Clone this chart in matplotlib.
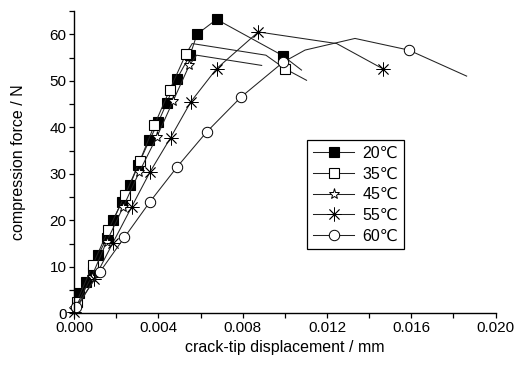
import matplotlib
matplotlib.use("Agg")
import matplotlib.pyplot as plt
from matplotlib.ticker import MultipleLocator, FormatStrFormatter

plt.rcParams['font.family'] = ['Liberation Sans', 'DejaVu Sans']

# ---- data ----
labels = ["20℃", "35℃", "45℃", "55℃", "60℃"]

x20 = [0.00024, 0.00055, 0.0009, 0.00114, 0.00154, 0.00186, 0.00225, 0.00265, 0.00304,
       0.00357, 0.0040, 0.00439, 0.00486, 0.0055, 0.00583, 0.00676, 0.0099, 0.01079]
y20 = [4.3, 6.8, 8.9, 12.5, 16.1, 20.0, 24.0, 27.6, 31.9,
       37.2, 41.2, 45.2, 50.3, 55.5, 60.0, 63.2, 55.4, 52.3]
m20 = list(range(0, 17))

x35 = [0.0, 0.00012, 0.00088, 0.00162, 0.00241, 0.00312, 0.0038, 0.00453, 0.0053,
       0.0056, 0.0091, 0.0100, 0.01103]
y35 = [0.0, 2.5, 10.4, 17.9, 25.4, 32.8, 40.4, 48.0, 55.7,
       58.0, 55.5, 52.6, 50.1]
m35 = [1, 2, 3, 4, 5, 6, 7, 8, 11]

x45 = [0.00004, 0.00083, 0.00154, 0.00233, 0.00309, 0.00392, 0.0047, 0.00546, 0.00581, 0.0089]
y45 = [1.1, 7.9, 15.4, 22.9, 30.4, 37.9, 45.7, 53.3, 55.5, 53.3]
m45 = [0, 1, 2, 3, 4, 5, 6, 7]

x55 = [0.0, 0.00095, 0.00183, 0.00273, 0.0036, 0.00458, 0.00554, 0.00676, 0.00874, 0.01246, 0.01464]
y55 = [0.2, 7.4, 15.1, 22.9, 30.4, 37.8, 45.5, 52.6, 60.5, 58.0, 52.6]
m55 = [0, 1, 2, 3, 4, 5, 6, 7, 8, 10]

x60 = [0.00009, 0.00122, 0.00238, 0.0036, 0.00489, 0.00629, 0.00792, 0.00992,
       0.01096, 0.01333, 0.01588, 0.01863]
y60 = [1.4, 8.9, 16.3, 24.0, 31.5, 39.0, 46.5, 54.0,
       56.6, 59.1, 56.6, 51.0]
m60 = [0, 1, 2, 3, 4, 5, 6, 7, 10]

xlabel = "crack-tip displacement / mm"
ylabel = "compression force / N"

# ---- figure ----
fig = plt.figure(figsize=(5.15, 3.65), dpi=100)
ax = fig.add_axes([74.2 / 515, 1 - 313.3 / 365, 421.3 / 515, 302.3 / 365])

lc = '#222222'
lw = 0.75
common = dict(color=lc, lw=lw, clip_on=False)
ax.plot(x20, y20, marker='s', ms=7, mfc='black', mec='black', mew=0.8,
        markevery=m20, label=labels[0], **common)
ax.plot(x35, y35, marker='s', ms=7, mfc='white', mec='black', mew=0.8,
        markevery=m35, label=labels[1], **common)
ax.plot(x45, y45, marker='*', ms=8, mfc='white', mec='black', mew=0.7,
        markevery=m45, label=labels[2], **common)
ax.plot(x55, y55, marker=(8, 2, 0), ms=10, mfc='none', mec='black', mew=0.6,
        markevery=m55, label=labels[3], **common)
ax.plot(x60, y60, marker='o', ms=7.5, mfc='white', mec='black', mew=0.7,
        markevery=m60, label=labels[4], **common)

ax.set_xlim(0, 0.020)
ax.set_ylim(0, 65)
ax.spines['top'].set_visible(False)
ax.spines['right'].set_visible(False)
for s in ('left', 'bottom'):
    ax.spines[s].set_linewidth(1.0)

ax.xaxis.set_major_locator(MultipleLocator(0.004))
ax.xaxis.set_minor_locator(MultipleLocator(0.002))
ax.xaxis.set_major_formatter(FormatStrFormatter('%.3f'))
ax.yaxis.set_major_locator(MultipleLocator(10))
ax.yaxis.set_minor_locator(MultipleLocator(5))
ax.tick_params(which='both', direction='out', length=3.5, width=0.9, labelsize=11, pad=2)

ax.set_xlabel(xlabel, fontsize=11.5, labelpad=4)
ax.set_ylabel(ylabel, fontsize=11.5, labelpad=17)

leg = ax.legend(loc='upper left', bbox_to_anchor=(0.553, 0.573), fontsize=11.5,
                frameon=True, fancybox=False, edgecolor='black', framealpha=1,
                handlelength=2.6, labelspacing=0.36, borderpad=0.35, handletextpad=0.5,
                borderaxespad=0)
leg.get_frame().set_linewidth(0.9)

fig.savefig('out.png', dpi=100)
